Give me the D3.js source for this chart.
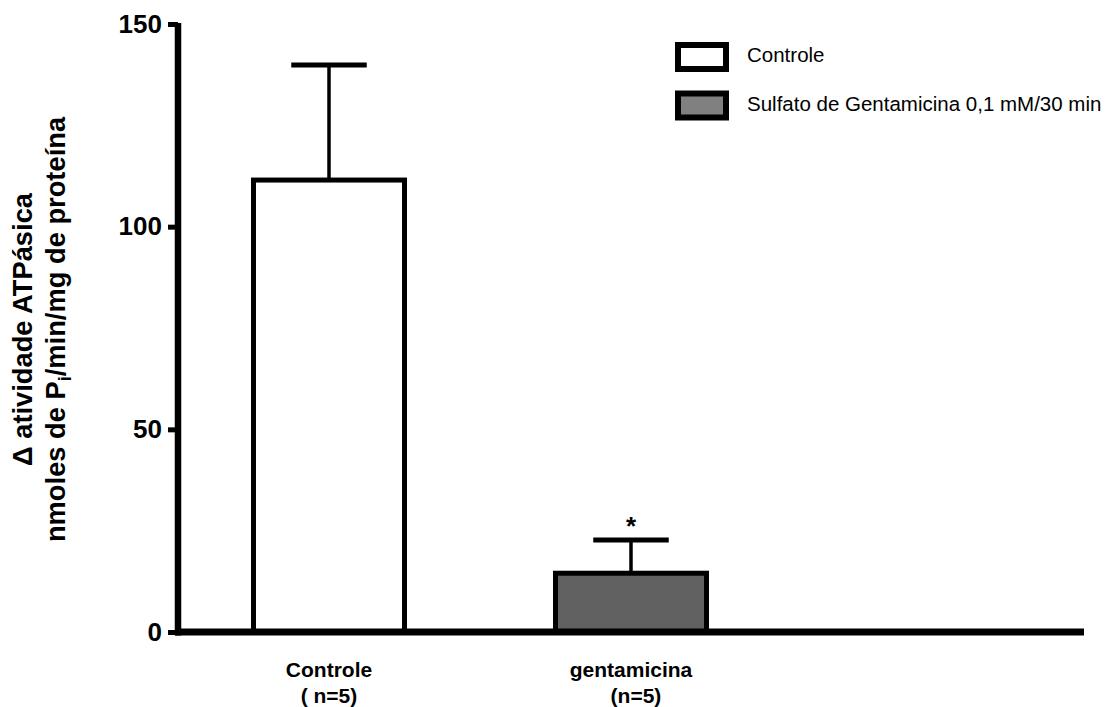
<!DOCTYPE html>
<html><head><meta charset="utf-8">
<script src="https://cdn.jsdelivr.net/npm/d3@7"></script>
<style>
html,body{margin:0;padding:0;background:#fff;}
text{font-family:"Liberation Sans",Arial,Helvetica,sans-serif;}
</style></head>
<body>
<svg id="chart" width="1119" height="707"></svg>
<script>
const categories = ["Controle", "gentamicina", ""];
const subLabels = ["( n=5)", "(n=5)", ""];
const means = [111.5, 14.5];
const errors = [28.4, 8.2];
const barFills = ["#ffffff", "#616161"];
const legendLabels = ["Controle", "Sulfato de Gentamicina 0,1 mM/30 min"];
const legendFills = ["#ffffff", "#808080"];
const yTicks = [0, 50, 100, 150];
const significance = ["", "*"];

const svg = d3.select("#chart");
const x = d3.scaleBand().domain(categories).range([178, 1084]).paddingInner(0.5).paddingOuter(0.25);
const y = d3.scaleLinear().domain([0, 150]).range([632, 24]);

// y axis ticks
const yAxis = d3.axisLeft(y).tickValues(yTicks).tickSize(10).tickPadding(6);
const gy = svg.append("g").attr("transform", "translate(178,0)").call(yAxis);
gy.select(".domain").remove();
gy.selectAll(".tick line").attr("stroke", "#000").attr("stroke-width", 5);
gy.selectAll(".tick text").attr("font-size", 26).attr("font-weight", "bold").attr("fill", "#000")
  .style("font-family", '"Liberation Sans",Arial,sans-serif');

const data = means.map((m, i) => ({cat: categories[i], m, e: errors[i], fill: barFills[i], sig: significance[i]}));

// error bars (upper)
const eg = svg.append("g");
data.forEach(d => {
  const cx = x(d.cat) + x.bandwidth() / 2;
  eg.append("line").attr("x1", cx).attr("x2", cx).attr("y1", y(d.m)).attr("y2", y(d.m + d.e))
    .attr("stroke", "#000").attr("stroke-width", 3.5);
  eg.append("line").attr("x1", cx - x.bandwidth() / 4).attr("x2", cx + x.bandwidth() / 4)
    .attr("y1", y(d.m + d.e)).attr("y2", y(d.m + d.e))
    .attr("stroke", "#000").attr("stroke-width", 5);
  if (d.sig) {
    svg.append("text").attr("x", cx).attr("y", y(d.m + d.e) - 4.5).attr("text-anchor", "middle")
      .attr("font-size", 26).attr("font-weight", "bold").text(d.sig);
  }
});

// bars
svg.append("g").selectAll("rect").data(data).join("rect")
  .attr("x", d => x(d.cat)).attr("width", x.bandwidth())
  .attr("y", d => y(d.m)).attr("height", d => y(0) - y(d.m))
  .attr("fill", d => d.fill).attr("stroke", "#000").attr("stroke-width", 5);

// axes lines
svg.append("line").attr("x1", 178).attr("x2", 178).attr("y1", y(150) - 1).attr("y2", y(0) + 3.5)
  .attr("stroke", "#000").attr("stroke-width", 6.5);
svg.append("line").attr("x1", 175).attr("x2", 1084).attr("y1", y(0)).attr("y2", y(0))
  .attr("stroke", "#000").attr("stroke-width", 7);

// x labels
categories.forEach((c, i) => {
  if (!c) return;
  const cx = x(c) + x.bandwidth() / 2;
  svg.append("text").attr("x", cx).attr("y", 677).attr("text-anchor", "middle")
    .attr("font-size", 21).attr("font-weight", "bold").text(c);
  svg.append("text").attr("x", cx + (i === 1 ? 5 : 0)).attr("y", 703).attr("text-anchor", "middle")
    .attr("font-size", 21).attr("font-weight", "bold").text(subLabels[i]);
});

// y title
const t = svg.append("text").attr("transform", "translate(32,329.5) rotate(-90)")
  .attr("text-anchor", "middle").attr("font-size", 27.3).attr("font-weight", "bold");
t.append("tspan").attr("x", 0).attr("y", 0).text("\u0394 atividade ATPásica");
const t2 = svg.append("text").attr("transform", "translate(65,329.5) rotate(-90)")
  .attr("text-anchor", "middle").attr("font-size", 27.3).attr("font-weight", "bold");
t2.append("tspan").text("nmoles de P");
t2.append("tspan").attr("font-size", 18).attr("dy", 6).text("i");
t2.append("tspan").attr("dy", -6).text("/min/mg de proteína");

// legend
const lg = svg.append("g");
legendLabels.forEach((l, i) => {
  const yy = 45 + i * 48.5;
  lg.append("rect").attr("x", 678).attr("y", yy).attr("width", 48).attr("height", 24)
    .attr("fill", legendFills[i]).attr("stroke", "#000").attr("stroke-width", 6);
  lg.append("text").attr("x", 747).attr("y", yy + 17).attr("font-size", 20.5).text(l);
});
</script>
</body></html>
